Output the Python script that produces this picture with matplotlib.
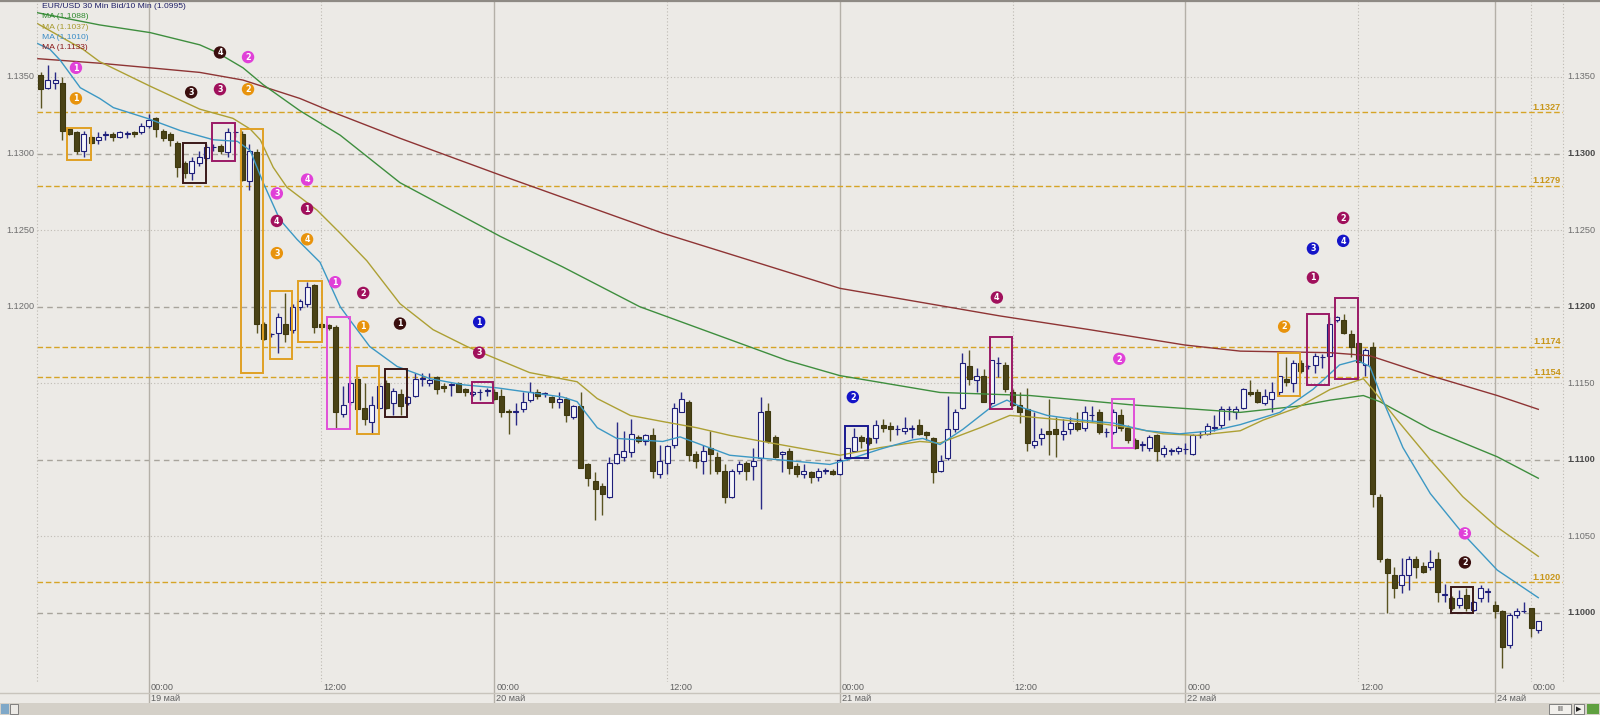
import matplotlib
matplotlib.use("Agg")
import numpy as np
import matplotlib.pyplot as plt
import matplotlib.transforms as mtransforms
from matplotlib.patches import Rectangle
from matplotlib.lines import Line2D

# ---------------- data (EUR/USD 30 min) ----------------
opens = [1.1351, 1.1343, 1.1346, 1.1346, 1.1316, 1.1314, 1.1302, 1.1311, 1.1309, 1.1312,
         1.1313, 1.1311, 1.1313, 1.1314, 1.1314, 1.1318, 1.1323, 1.1315, 1.1313, 1.1307,
         1.1294, 1.1287, 1.1294, 1.1297, 1.1304, 1.1305, 1.1301, 1.1314, 1.1313, 1.1282,
         1.1301, 1.1189, 1.1182, 1.1183, 1.1189, 1.1185, 1.1200, 1.1202, 1.1214, 1.1189,
         1.1188, 1.1187, 1.1130, 1.1138, 1.1153, 1.1134, 1.1125, 1.1134, 1.1150, 1.1137,
         1.1143, 1.1137, 1.1142, 1.1153, 1.1150, 1.1154, 1.1148, 1.1149, 1.1150, 1.1146,
         1.1143, 1.1144, 1.1145, 1.1144, 1.1142, 1.1132, 1.1131, 1.1133, 1.1139, 1.1144,
         1.1143, 1.1141, 1.1138, 1.1140, 1.1128, 1.1135, 1.1097, 1.1086, 1.1083, 1.1076,
         1.1098, 1.1102, 1.1105, 1.1115, 1.1112, 1.1116, 1.1091, 1.1098, 1.1110, 1.1131,
         1.1138, 1.1104, 1.1099, 1.1108, 1.1102, 1.1093, 1.1076, 1.1093, 1.1098, 1.1096,
         1.1101, 1.1132, 1.1115, 1.1104, 1.1106, 1.1096, 1.1091, 1.1092, 1.1089, 1.1093,
         1.1093, 1.1091, 1.1101, 1.1106, 1.1115, 1.1114, 1.1114, 1.1123, 1.1122, 1.1120,
         1.1119, 1.1120, 1.1123, 1.1118, 1.1114, 1.1093, 1.1101, 1.1120, 1.1134, 1.1161,
         1.1152, 1.1155, 1.1137, 1.1163, 1.1162, 1.1144, 1.1136, 1.1133, 1.1110, 1.1114,
         1.1119, 1.1120, 1.1117, 1.1120, 1.1124, 1.1121, 1.1129, 1.1131, 1.1118, 1.1118,
         1.1129, 1.1121, 1.1113, 1.1110, 1.1108, 1.1116, 1.1104, 1.1106, 1.1106, 1.1107,
         1.1104, 1.1116, 1.1117, 1.1121, 1.1123, 1.1133, 1.1131, 1.1134, 1.1144, 1.1144,
         1.1137, 1.1140, 1.1144, 1.1153, 1.1150, 1.1163, 1.1161, 1.1162, 1.1167, 1.1168,
         1.1191, 1.1191, 1.1182, 1.1176, 1.1162, 1.1174, 1.1076, 1.1035, 1.1025, 1.1018,
         1.1025, 1.1035, 1.1031, 1.1030, 1.1035, 1.1012, 1.1010, 1.1005, 1.1012, 1.1002,
         1.1010, 1.1014, 1.1005, 1.1001, 1.0979, 1.0999, 1.1001, 1.1003, 1.0989]
highs = [1.1353, 1.1358, 1.1353, 1.1350, 1.1317, 1.1315, 1.1315, 1.1312, 1.1314, 1.1315,
         1.1314, 1.1315, 1.1315, 1.1315, 1.1320, 1.1326, 1.1324, 1.1316, 1.1314, 1.1308,
         1.1295, 1.1298, 1.1302, 1.1306, 1.1306, 1.1306, 1.1317, 1.1315, 1.1315, 1.1306,
         1.1303, 1.1190, 1.1183, 1.1196, 1.1209, 1.1202, 1.1205, 1.1216, 1.1215, 1.1190,
         1.1189, 1.1188, 1.1148, 1.1152, 1.1154, 1.1150, 1.1142, 1.1150, 1.1152, 1.1147,
         1.1146, 1.1142, 1.1157, 1.1157, 1.1157, 1.1155, 1.1150, 1.1150, 1.1151, 1.1147,
         1.1145, 1.1146, 1.1147, 1.1146, 1.1146, 1.1133, 1.1137, 1.1144, 1.1151, 1.1146,
         1.1144, 1.1142, 1.1144, 1.1141, 1.1136, 1.1144, 1.1098, 1.1092, 1.1085, 1.1102,
         1.1125, 1.1119, 1.1127, 1.1116, 1.1117, 1.1121, 1.1110, 1.1110, 1.1137, 1.1144,
         1.1139, 1.1106, 1.1110, 1.1119, 1.1105, 1.1097, 1.1094, 1.1099, 1.1099, 1.1108,
         1.1141, 1.1137, 1.1116, 1.1106, 1.1108, 1.1098, 1.1097, 1.1093, 1.1095, 1.1095,
         1.1094, 1.1101, 1.1108, 1.1121, 1.1116, 1.1115, 1.1126, 1.1127, 1.1125, 1.1123,
         1.1128, 1.1123, 1.1127, 1.1119, 1.1115, 1.1103, 1.1142, 1.1133, 1.1170, 1.1172,
         1.1160, 1.1159, 1.1165, 1.1167, 1.1164, 1.1146, 1.1144, 1.1147, 1.1131, 1.1121,
         1.1140, 1.1128, 1.1127, 1.1128, 1.1131, 1.1135, 1.1135, 1.1133, 1.1121, 1.1133,
         1.1133, 1.1123, 1.1114, 1.1112, 1.1116, 1.1117, 1.1110, 1.1108, 1.1109, 1.1111,
         1.1117, 1.1119, 1.1124, 1.1129, 1.1135, 1.1135, 1.1135, 1.1147, 1.1152, 1.1146,
         1.1146, 1.1151, 1.1155, 1.1167, 1.1165, 1.1165, 1.1162, 1.1170, 1.1169, 1.1193,
         1.1194, 1.1195, 1.1185, 1.1177, 1.1173, 1.1177, 1.1078, 1.1036, 1.1030, 1.1036,
         1.1037, 1.1037, 1.1033, 1.1041, 1.1040, 1.1019, 1.1011, 1.1015, 1.1016, 1.1008,
         1.1018, 1.1016, 1.1008, 1.1002, 1.1000, 1.1003, 1.1007, 1.1003, 1.0995]
lows = [1.1330, 1.1342, 1.1342, 1.1309, 1.1312, 1.1300, 1.1298, 1.1306, 1.1306, 1.1309,
        1.1308, 1.1310, 1.1310, 1.1311, 1.1313, 1.1317, 1.1311, 1.1308, 1.1305, 1.1285,
        1.1284, 1.1283, 1.1292, 1.1296, 1.1302, 1.1300, 1.1298, 1.1311, 1.1282, 1.1276,
        1.1183, 1.1178, 1.1180, 1.1170, 1.1177, 1.1183, 1.1198, 1.1200, 1.1183, 1.1187,
        1.1185, 1.1121, 1.1128, 1.1136, 1.1133, 1.1123, 1.1117, 1.1133, 1.1133, 1.1129,
        1.1129, 1.1136, 1.1141, 1.1148, 1.1148, 1.1143, 1.1144, 1.1142, 1.1144, 1.1142,
        1.1142, 1.1139, 1.1142, 1.1139, 1.1128, 1.1117, 1.1123, 1.1131, 1.1138, 1.1140,
        1.1141, 1.1134, 1.1134, 1.1125, 1.1127, 1.1095, 1.1083, 1.1061, 1.1064, 1.1075,
        1.1097, 1.1099, 1.1102, 1.1111, 1.1110, 1.1088, 1.1088, 1.1091, 1.1108, 1.1131,
        1.1099, 1.1095, 1.1091, 1.1091, 1.1091, 1.1072, 1.1075, 1.1091, 1.1087, 1.1087,
        1.1068, 1.1111, 1.1101, 1.1092, 1.1091, 1.1089, 1.1088, 1.1085, 1.1086, 1.1091,
        1.1090, 1.1090, 1.1100, 1.1105, 1.1108, 1.1110, 1.1111, 1.1118, 1.1112, 1.1116,
        1.1117, 1.1114, 1.1116, 1.1113, 1.1085, 1.1092, 1.1100, 1.1118, 1.1133, 1.1149,
        1.1144, 1.1138, 1.1136, 1.1154, 1.1144, 1.1135, 1.1124, 1.1106, 1.1108, 1.1110,
        1.1103, 1.1102, 1.1113, 1.1117, 1.1119, 1.1119, 1.1125, 1.1117, 1.1115, 1.1117,
        1.1119, 1.1111, 1.1107, 1.1106, 1.1106, 1.1099, 1.1102, 1.1103, 1.1104, 1.1104,
        1.1103, 1.1114, 1.1116, 1.1119, 1.1121, 1.1126, 1.1127, 1.1133, 1.1142, 1.1137,
        1.1136, 1.1131, 1.1142, 1.1148, 1.1144, 1.1157, 1.1159, 1.1157, 1.1160, 1.1167,
        1.1190, 1.1182, 1.1167, 1.1163, 1.1155, 1.1069, 1.1033, 1.1000, 1.1010, 1.1013,
        1.1015, 1.1023, 1.1026, 1.1028, 1.1007, 1.1007, 1.1002, 1.1003, 1.1001, 1.1001,
        1.1007, 1.1007, 1.0997, 1.0964, 1.0977, 1.0997, 1.1000, 1.0984, 1.0987]
closes = [1.1342, 1.1348, 1.1348, 1.1315, 1.1313, 1.1302, 1.1313, 1.1307, 1.1311, 1.1313,
          1.1311, 1.1314, 1.1313, 1.1313, 1.1318, 1.1322, 1.1316, 1.1310, 1.1309, 1.1291,
          1.1287, 1.1295, 1.1298, 1.1304, 1.1304, 1.1302, 1.1314, 1.1314, 1.1283, 1.1302,
          1.1189, 1.1179, 1.1182, 1.1193, 1.1182, 1.1200, 1.1204, 1.1213, 1.1187, 1.1187,
          1.1186, 1.1131, 1.1136, 1.1150, 1.1133, 1.1127, 1.1136, 1.1148, 1.1134, 1.1145,
          1.1135, 1.1141, 1.1153, 1.1153, 1.1152, 1.1146, 1.1147, 1.1149, 1.1144, 1.1144,
          1.1144, 1.1144, 1.1145, 1.1140, 1.1131, 1.1131, 1.1132, 1.1138, 1.1144, 1.1142,
          1.1143, 1.1138, 1.1140, 1.1129, 1.1135, 1.1095, 1.1088, 1.1081, 1.1078, 1.1098,
          1.1104, 1.1106, 1.1117, 1.1112, 1.1116, 1.1093, 1.1099, 1.1109, 1.1134, 1.1140,
          1.1103, 1.1099, 1.1106, 1.1104, 1.1093, 1.1076, 1.1093, 1.1097, 1.1093, 1.1099,
          1.1131, 1.1112, 1.1102, 1.1105, 1.1095, 1.1091, 1.1093, 1.1089, 1.1093, 1.1093,
          1.1091, 1.1100, 1.1108, 1.1115, 1.1112, 1.1111, 1.1123, 1.1121, 1.1120, 1.1120,
          1.1121, 1.1121, 1.1117, 1.1116, 1.1092, 1.1099, 1.1120, 1.1131, 1.1163, 1.1153,
          1.1155, 1.1138, 1.1165, 1.1163, 1.1146, 1.1136, 1.1131, 1.1111, 1.1112, 1.1117,
          1.1117, 1.1117, 1.1119, 1.1124, 1.1120, 1.1131, 1.1129, 1.1118, 1.1118, 1.1131,
          1.1121, 1.1113, 1.1108, 1.1110, 1.1115, 1.1106, 1.1108, 1.1106, 1.1108, 1.1107,
          1.1116, 1.1116, 1.1122, 1.1121, 1.1133, 1.1133, 1.1133, 1.1146, 1.1143, 1.1138,
          1.1142, 1.1144, 1.1155, 1.1151, 1.1163, 1.1158, 1.1161, 1.1168, 1.1167, 1.1189,
          1.1193, 1.1183, 1.1174, 1.1164, 1.1172, 1.1078, 1.1035, 1.1026, 1.1016, 1.1025,
          1.1035, 1.1030, 1.1027, 1.1033, 1.1014, 1.1012, 1.1003, 1.1010, 1.1003, 1.1007,
          1.1016, 1.1014, 1.1001, 1.0978, 1.0999, 1.1001, 1.1001, 1.0990, 1.0995]

# moving averages, read at bar positions
ma_green_bar = [-0.5, 8.2, 15.2, 22.1, 24.5, 28.1, 30.9, 36.0, 41.6, 49.9, 63.8, 72.5, 83.2, 103.6,
                111.0, 124.9, 137.4, 151.3, 160.6, 166.6, 174.5, 179.1, 183.7, 186.0, 193.0, 202.3, 208.0]
ma_green_val = [1.1392, 1.1384, 1.1379, 1.1371, 1.1366, 1.1356, 1.1345, 1.1328, 1.1312, 1.1281, 1.1246,
                1.1226, 1.1200, 1.1165, 1.1155, 1.1144, 1.1142, 1.1136, 1.1133, 1.1131, 1.1135, 1.1139,
                1.1142, 1.1138, 1.1120, 1.1102, 1.1088]
ma_olive_bar = [-0.5, 5.9, 8.2, 15.2, 22.1, 26.7, 29.1, 30.5, 32.3, 34.2, 38.4, 41.6, 45.3, 49.9, 54.5,
                59.2, 63.8, 67.9, 74.5, 77.3, 81.9, 86.4, 91.1, 95.7, 100.3, 105.0, 111.0, 116.6, 122.1,
                124.9, 130.5, 134.6, 137.4, 142.0, 146.7, 151.3, 155.9, 160.6, 166.6, 169.8, 174.5, 179.1,
                183.7, 185.0, 188.4, 193.0, 197.5, 202.3, 208.0]
ma_olive_val = [1.1385, 1.1368, 1.1360, 1.1344, 1.1329, 1.1323, 1.1316, 1.1309, 1.1291, 1.1278, 1.1263,
                1.1248, 1.1230, 1.1202, 1.1185, 1.1174, 1.1165, 1.1157, 1.1151, 1.1140, 1.1129, 1.1125,
                1.1121, 1.1116, 1.1112, 1.1108, 1.1103, 1.1108, 1.1112, 1.1111, 1.1121, 1.1129, 1.1128,
                1.1126, 1.1124, 1.1121, 1.1117, 1.1116, 1.1119, 1.1126, 1.1134, 1.1146, 1.1153, 1.1146,
                1.1126, 1.1100, 1.1076, 1.1056, 1.1037]
ma_cyan_bar = [-0.5, 1.3, 2.7, 5.5, 8.2, 10.1, 14.8, 19.4, 24.0, 27.3, 29.1, 30.9, 33.2, 35.6, 38.8, 41.6,
               43.0, 45.7, 49.5, 54.1, 58.7, 63.4, 68.0, 72.5, 74.5, 77.3, 80.0, 83.2, 86.4, 88.8, 91.1,
               95.7, 100.3, 105.0, 109.6, 112.0, 116.6, 121.1, 122.5, 124.9, 128.1, 131.9, 134.2, 136.4,
               139.8, 144.4, 149.0, 153.6, 158.2, 162.8, 166.6, 172.1, 176.7, 180.4, 182.8, 184.6, 186.4,
               189.2, 193.0, 197.5, 202.3, 208.0]
ma_cyan_val = [1.1372, 1.1368, 1.1361, 1.1343, 1.1336, 1.1330, 1.1323, 1.1315, 1.1309, 1.1308, 1.1302,
               1.1281, 1.1257, 1.1244, 1.1229, 1.1200, 1.1191, 1.1174, 1.1161, 1.1153, 1.1149, 1.1147,
               1.1144, 1.1141, 1.1138, 1.1121, 1.1114, 1.1113, 1.1112, 1.1115, 1.1111, 1.1103, 1.1101,
               1.1099, 1.1097, 1.1100, 1.1107, 1.1113, 1.1114, 1.1110, 1.1120, 1.1134, 1.1139, 1.1134,
               1.1129, 1.1126, 1.1124, 1.1119, 1.1117, 1.1119, 1.1123, 1.1131, 1.1146, 1.1162, 1.1165,
               1.1161, 1.1139, 1.1108, 1.1078, 1.1052, 1.1028, 1.1010]
ma_red_bar = [-0.5, 8.2, 15.2, 22.1, 28.1, 36.0, 40.6, 49.9, 63.8, 86.4, 111.0, 133.2, 145.7, 158.9,
              166.6, 179.0, 184.6, 193.0, 202.3, 208.0]
ma_red_val = [1.1362, 1.1359, 1.1356, 1.1353, 1.1348, 1.1336, 1.1327, 1.1310, 1.1286, 1.1248, 1.1212,
              1.1194, 1.1185, 1.1175, 1.1171, 1.1170, 1.1168, 1.1155, 1.1142, 1.1133]

# signal markers
mk_bar = [4.9, 4.9, 24.9, 28.8, 20.9, 24.9, 28.8, 37.0, 32.8, 37.0, 32.8, 37.0, 32.8, 40.9, 44.8,
          44.8, 49.9, 60.9, 60.9, 112.8, 132.8, 149.8, 172.7, 176.7, 176.7, 180.9, 180.9, 197.8, 197.8]
mk_price = [1.1356, 1.1336, 1.1366, 1.1363, 1.1340, 1.1342, 1.1342, 1.1283, 1.1274, 1.1264, 1.1256,
            1.1244, 1.1235, 1.1216, 1.1209, 1.1187, 1.1189, 1.1190, 1.1170, 1.1141, 1.1206, 1.1166,
            1.1187, 1.1219, 1.1238, 1.1243, 1.1258, 1.1052, 1.1033]
mk_num = [1, 1, 4, 2, 3, 3, 2, 4, 3, 1, 4, 4, 3, 1, 2, 1, 1, 1, 3, 2, 4, 2, 2, 1, 3, 4, 2, 3, 2]
mk_kind = ['pink', 'orange', 'dark', 'pink', 'dark', 'purple', 'orange', 'pink', 'pink', 'purple',
           'purple', 'orange', 'orange', 'pink', 'purple', 'orange', 'dark', 'blue', 'purple', 'blue',
           'purple', 'pink', 'orange', 'purple', 'blue', 'blue', 'purple', 'pink', 'dark']

# pattern boxes
box_l = [3.65, 19.76, 23.79, 27.82, 31.85, 35.74, 39.76, 43.93, 47.82, 59.9, 111.7, 131.8, 148.8,
         171.8, 175.9, 179.8, 195.9]
box_r = [6.99, 22.96, 26.99, 30.88, 34.9, 39.07, 42.9, 46.96, 50.88, 62.8, 114.9, 134.9, 151.8,
         174.9, 178.9, 182.9, 198.9]
box_top = [1.1317, 1.1307, 1.1320, 1.1316, 1.1210, 1.1217, 1.1193, 1.1161, 1.1159, 1.1151, 1.1122,
           1.1180, 1.1140, 1.1170, 1.1195, 1.1206, 1.1017]
box_bot = [1.1296, 1.1281, 1.1295, 1.1157, 1.1166, 1.1177, 1.1120, 1.1117, 1.1128, 1.1137, 1.1101,
           1.1133, 1.1108, 1.1142, 1.1149, 1.1153, 1.1000]
box_kind = ['orange', 'dark', 'purple', 'orange', 'orange', 'orange', 'pink', 'orange', 'dark',
            'purple', 'blue', 'purple', 'pink', 'orange', 'purple', 'purple', 'dark']

levels = [1.1327, 1.1279, 1.1174, 1.1154, 1.1020]
level_labels = ['1.1327', '1.1279', '1.1174', '1.1154', '1.1020']
price_ticks = [1.1350, 1.1300, 1.1250, 1.1200, 1.1150, 1.1100, 1.1050, 1.1000]
price_labels = ['1.1350', '1.1300', '1.1250', '1.1200', '1.1150', '1.1100', '1.1050', '1.1000']
left_ticks = [1.1350, 1.1300, 1.1250, 1.1200]
left_labels = ['1.1350', '1.1300', '1.1250', '1.1200']
time_ticks = [15, 39, 63, 87, 111, 135, 159, 183, 207]
time_labels = ['00:00', '12:00', '00:00', '12:00', '00:00', '12:00', '00:00', '12:00', '00:00']
day_ticks = [15, 63, 111, 159, 202]
day_labels = ['19 май', '20 май', '21 май', '22 май', '24 май']
legend_title = 'EUR/USD 30 Min Bid/10 Min (1.0995)'
legend_ma = ['MA (1.1088)', 'MA (1.1037)', 'MA (1.1010)', 'MA (1.1133)']

# ---------------- style ----------------
BG = '#ECEAE6'
COL = {'pink': '#E040D8', 'orange': '#E8930C', 'dark': '#3A0E0E', 'purple': '#A0105C', 'blue': '#1414C8'}
BOXCOL = {'pink': '#E050D8', 'orange': '#E0A024', 'dark': '#3A1818', 'purple': '#9A1A66', 'blue': '#1A1A90'}
MA_COL = ['#3E8E3E', '#ADA034', '#3C98C4', '#8E3434']
LEG_COL = ['#2E8A2E', '#A89A2E', '#3A8CC6', '#8B1A1A']
FONT = ['Liberation Sans Narrow', 'Liberation Sans', 'DejaVu Sans']

W, H = 1600, 715
fig = plt.figure(figsize=(16, 7.15), dpi=100)
fig.patch.set_facecolor(BG)

def fx(px):
    return px / W

def fy(py):
    return 1 - py / H

AX_L, AX_R, AX_T, AX_B = 37, 1563, 0, 682
ax = fig.add_axes([fx(AX_L), fy(AX_B), (AX_R - AX_L) / W, (AX_B - AX_T) / H])
ax.set_facecolor(BG)
ax.set_xlim(-0.51, 211.43)
ax.set_ylim(1.095494, 1.140028)
ax.axis('off')

# horizontal grid
for p in price_ticks:
    major = abs(round(p * 10000) % 100) < 1
    if major:
        ax.axhline(p, color='#A8A49C', lw=1.0, ls=(0, (4, 3)), zorder=1)
    else:
        ax.axhline(p, color='#C0BCB5', lw=0.8, ls=(0, (1, 2)), zorder=1)
for p in levels:
    ax.axhline(p, color='#D6A426', lw=1.0, ls=(0, (4, 2)), zorder=1.5)

# vertical grid
for b in day_ticks:
    ax.axvline(b, ymin=-21 / 682, ymax=1, color='#B4B0A8', lw=1.0, zorder=1, clip_on=False)
for b, lab in zip(time_ticks, time_labels):
    if lab == '12:00' or b not in day_ticks:
        ax.axvline(b, color='#BDB9B2', lw=0.8, ls=(0, (1, 2)), zorder=1)
fig.add_artist(Line2D([fx(AX_L)] * 2, [fy(0), fy(682)], color='#BDB9B2', lw=0.8, ls=(0, (1, 2))))
fig.add_artist(Line2D([fx(AX_R)] * 2, [fy(0), fy(682)], color='#BDB9B2', lw=0.8, ls=(0, (1, 2))))

# candles
for i, (o, h, l, c) in enumerate(zip(opens, highs, lows, closes)):
    bull = c >= o
    wick = '#2A2A86' if bull else '#5A5422'
    ax.vlines(i, l, h, color=wick, lw=1.0, zorder=2)
    bottom = min(o, c)
    height = max(abs(c - o), 0.00004)
    if bull:
        rect = Rectangle((i - 0.34, bottom), 0.68, height, facecolor='#F6F6FA', edgecolor='#1E1E7A',
                         lw=0.8, zorder=3)
    else:
        rect = Rectangle((i - 0.34, bottom), 0.68, height, facecolor='#4A4316', edgecolor='#3E380F',
                         lw=0.8, zorder=3)
    ax.add_patch(rect)

# moving averages
ax.plot(ma_red_bar, ma_red_val, color=MA_COL[3], lw=1.0, zorder=4)
ax.plot(ma_green_bar, ma_green_val, color=MA_COL[0], lw=1.0, zorder=4)
ax.plot(ma_olive_bar, ma_olive_val, color=MA_COL[1], lw=1.0, zorder=4)
ax.plot(ma_cyan_bar, ma_cyan_val, color=MA_COL[2], lw=1.0, zorder=4)

# boxes
for l, r, t, b, k in zip(box_l, box_r, box_top, box_bot, box_kind):
    ax.add_patch(Rectangle((l, b), r - l, t - b, fill=False, edgecolor=BOXCOL[k], lw=1.4, zorder=5))

# markers
for b, p, n, k in zip(mk_bar, mk_price, mk_num, mk_kind):
    ax.scatter([b], [p], s=80, color=COL[k], edgecolors='none', zorder=6)
    ax.text(b, p - 0.00002, str(n), ha='center', va='center', color='white', fontsize=5.8,
            fontweight='bold', zorder=7, family='DejaVu Sans')

# right price labels
ytrans = mtransforms.blended_transform_factory(fig.transFigure, ax.transData)
for p, lab in zip(price_ticks, price_labels):
    major = abs(round(p * 10000) % 100) < 1
    ax.text(fx(1567), p, lab, transform=ytrans, ha='left', va='center', fontsize=6.6,
            color='#4A4A4A' if major else '#6E6E6E', fontweight='bold' if major else 'normal',
            family=FONT, clip_on=False)
for p, lab in zip(left_ticks, left_labels):
    ax.text(fx(34), p, lab, transform=ytrans, ha='right', va='center', fontsize=6.6,
            color='#6E6E6E', family=FONT, clip_on=False)
for p, lab in zip(levels, level_labels):
    ax.text(fx(1561), p + 0.00004, lab, transform=ytrans, ha='right', va='bottom', fontsize=6.6,
            color='#C8961A', fontweight='bold', family=FONT, clip_on=False)

# time axis labels
xtrans = mtransforms.blended_transform_factory(ax.transData, fig.transFigure)
xtrans_off = mtransforms.offset_copy(xtrans, fig=fig, x=2, y=0, units='dots')
for b, lab in zip(time_ticks, time_labels):
    ax.text(b, fy(688), lab, transform=xtrans_off, ha='left', va='center', fontsize=6.6,
            color='#606060', family=FONT, clip_on=False)
for b, lab in zip(day_ticks, day_labels):
    ax.text(b, fy(698.5), lab, transform=xtrans_off, ha='left', va='center', fontsize=6.6,
            color='#606060', family=FONT, clip_on=False)
fig.add_artist(Line2D([0, 1], [fy(693), fy(693)], color='#C8C4BC', lw=1.0))

# legend text
fig.text(fx(42), fy(6), legend_title, ha='left', va='center', fontsize=6.1, color='#1E1E66',
         family=FONT)
for k, (txt, col) in enumerate(zip(legend_ma, LEG_COL)):
    fig.text(fx(42), fy(17 + 10.3 * k), txt, ha='left', va='center', fontsize=6.1, color=col, family=FONT)

# top border and bottom scrollbar
fig.add_artist(Line2D([0, 1], [fy(0.8), fy(0.8)], color='#8E8A84', lw=1.6))
fig.add_artist(Rectangle((0, 0), 1, 12 / H, transform=fig.transFigure, facecolor='#D4D0C8',
                         edgecolor='none'))
fig.add_artist(Rectangle((fx(10), fy(714)), 8 / W, 10 / H, transform=fig.transFigure,
                         facecolor='#ECEAE6', edgecolor='#707070', lw=0.6))
fig.add_artist(Rectangle((fx(1), fy(714)), 8 / W, 10 / H, transform=fig.transFigure,
                         facecolor='#7FA8C8', edgecolor='none'))
for x0, txt in [(1549, 'III'), (1574, '▶')]:
    fig.add_artist(Rectangle((fx(x0), fy(714)), 22 / W if txt == 'III' else 10 / W, 10 / H,
                             transform=fig.transFigure, facecolor='#F2F0EC', edgecolor='#707070', lw=0.6))
    fig.text(fx(x0 + 11 if txt == 'III' else x0 + 5), fy(709), txt, ha='center', va='center',
             fontsize=5, color='#202020', family='DejaVu Sans')
fig.add_artist(Rectangle((fx(1587), fy(714)), 12 / W, 10 / H, transform=fig.transFigure,
                         facecolor='#5FA040', edgecolor='none'))

fig.savefig('out.png', dpi=100, facecolor=BG)
